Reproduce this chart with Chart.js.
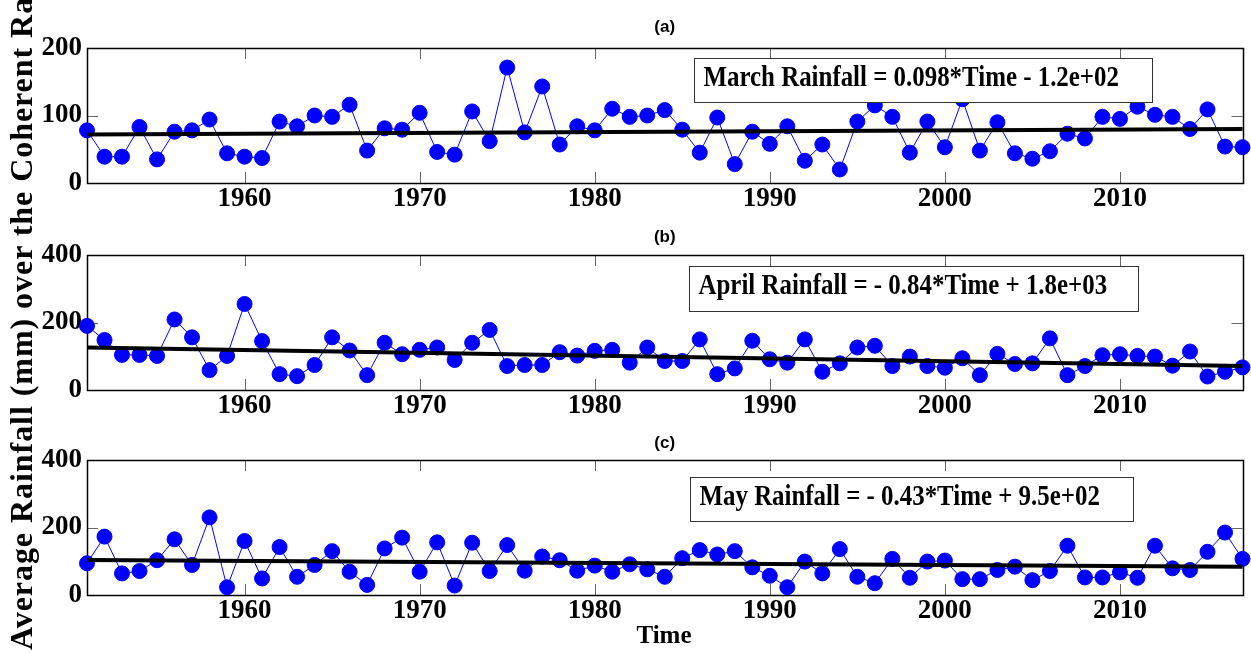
<!DOCTYPE html>
<html>
<head>
<meta charset="utf-8">
<title>Average rainfall over the coherent rainfall zone</title>
<script src="https://cdn.jsdelivr.net/npm/chart.js@4.4.1/dist/chart.umd.min.js"></script>
<style>
  html, body { margin: 0; padding: 0; background: #fff; }
  body { width: 1251px; height: 653px; position: relative; overflow: hidden; }
  canvas { position: absolute; left: 0; }
  #yTitle {
    position: absolute; left: 5px; top: 650px;
    transform-origin: 0 0; transform: rotate(-90deg);
    font: bold 32px "Liberation Serif", serif; line-height: 32px;
    letter-spacing: 0.95px; white-space: nowrap; color: #000;
  }
  #xTitle {
    position: absolute; left: 664px; top: 622px; transform: translateX(-50%);
    font: bold 25px "Liberation Serif", serif; line-height: 25px; color: #000;
  }
</style>
</head>
<body>
<canvas id="panelA" width="1251" height="215" style="top:0px"></canvas>
<canvas id="panelB" width="1251" height="212" style="top:210px"></canvas>
<canvas id="panelC" width="1251" height="207" style="top:420px"></canvas>
<div id="yTitle">Average Rainfall (mm) over the Coherent Rainfall Zone</div>
<div id="xTitle">Time</div>

<script>
// Jahre 1951-2017
const years = [
  1951, 1952, 1953, 1954, 1955, 1956, 1957, 1958, 1959, 1960,
  1961, 1962, 1963, 1964, 1965, 1966, 1967, 1968, 1969, 1970,
  1971, 1972, 1973, 1974, 1975, 1976, 1977, 1978, 1979, 1980,
  1981, 1982, 1983, 1984, 1985, 1986, 1987, 1988, 1989, 1990,
  1991, 1992, 1993, 1994, 1995, 1996, 1997, 1998, 1999, 2000,
  2001, 2002, 2003, 2004, 2005, 2006, 2007, 2008, 2009, 2010,
  2011, 2012, 2013, 2014, 2015, 2016, 2017
];

const marchRain = [
  78, 39, 39, 83, 35, 76, 78, 94, 44, 39,
  37, 91, 84, 100, 98, 116, 48, 81, 79, 104,
  46, 42, 106, 62, 171, 75, 143, 57, 84, 78,
  110, 98, 100, 108, 79, 45, 97, 28, 76, 58,
  84, 33, 57, 20, 91, 115, 98, 45, 91, 53,
  124, 48, 90, 44, 36, 47, 73, 66, 98, 95,
  113, 101, 98, 80, 109, 54, 53
];

const aprilRain = [
  190, 148, 104, 104, 101, 209, 156, 59, 101, 255,
  145, 47, 41, 74, 156, 117, 44, 140, 106, 119,
  126, 89, 140, 178, 71, 74, 74, 112, 102, 116,
  119, 81, 126, 86, 86, 150, 47, 64, 146, 91,
  81, 150, 54, 79, 126, 131, 71, 99, 71, 66,
  94, 44, 107, 77, 79, 153, 44, 71, 103, 106,
  101, 99, 72, 114, 40, 54, 67
];

const mayRain = [
  94, 173, 64, 71, 103, 165, 89, 230, 23, 160,
  49, 142, 54, 89, 130, 69, 30, 138, 170, 69,
  156, 28, 155, 71, 148, 72, 114, 103, 72, 87,
  69, 91, 76, 54, 109, 133, 120, 130, 82, 57,
  23, 99, 64, 136, 54, 35, 107, 51, 99, 102,
  47, 47, 74, 84, 44, 71, 146, 52, 52, 67,
  51, 146, 79, 74, 128, 185, 107
];

// Trendlinien: Anfangs- und Endwert
const trendYears = [1951, 2017];
const marchTrend = [72, 80];
const aprilTrend = [126, 71];
const mayTrend = [104, 84];

const xTicks = [1960, 1970, 1980, 1990, 2000, 2010];
const yTicksSmall = [0, 100, 200];
const yTicksLarge = [0, 200, 400];

const serif = '"Liberation Serif", "Times New Roman", serif';

// Rahmen + kleine Ticks nach innen (MATLAB-Stil)
const framePlugin = {
  id: 'frame',
  beforeDatasetsDraw(chart) {
    const { ctx, chartArea: a, scales: { x, y } } = chart;
    ctx.save();
    ctx.strokeStyle = '#666';
    ctx.lineWidth = 1;
    ctx.beginPath();
    x.ticks.forEach(t => {
      const px = Math.round(x.getPixelForValue(t.value)) + 0.5;
      ctx.moveTo(px, a.top); ctx.lineTo(px, a.top + 11);
      ctx.moveTo(px, a.bottom); ctx.lineTo(px, a.bottom - 11);
    });
    y.ticks.forEach(t => {
      const py = Math.round(y.getPixelForValue(t.value)) + 0.5;
      ctx.moveTo(a.left, py); ctx.lineTo(a.left + 11, py);
      ctx.moveTo(a.right, py); ctx.lineTo(a.right - 11, py);
    });
    ctx.stroke();
    ctx.strokeStyle = '#000';
    ctx.lineWidth = 1.5;
    ctx.strokeRect(Math.round(a.left) + 0.5, Math.round(a.top) + 0.5,
                   Math.round(a.width), Math.round(a.height));
    ctx.restore();
  }
};

// Textbox mit der Regressionsgleichung
const eqBoxPlugin = {
  id: 'eqBox',
  afterDatasetsDraw(chart, args, opts) {
    if (!opts.text) return;
    const { ctx, chartArea: a } = chart;
    const bx = Math.round(a.left + opts.left) + 0.5;
    const by = Math.round(a.top + opts.top) + 0.5;
    ctx.save();
    ctx.fillStyle = '#fff';
    ctx.fillRect(bx, by, opts.width, opts.height);
    ctx.strokeStyle = '#333';
    ctx.lineWidth = 1;
    ctx.strokeRect(bx, by, opts.width, opts.height);
    ctx.translate(bx + 9, by + 27);
    ctx.scale(0.83, 1);
    ctx.fillStyle = '#000';
    ctx.font = 'bold 30px ' + serif;
    ctx.textBaseline = 'alphabetic';
    ctx.fillText(opts.text, 0, 0);
    ctx.restore();
  }
};

function makePanel(id, values, trend, yMax, yTicks, title, titlePad, box) {
  const el = document.getElementById(id);
  return new Chart(el, {
    type: 'line',
    data: {
      datasets: [
        {
          label: 'Trend',
          data: trendYears.map((yr, i) => ({ x: yr, y: trend[i] })),
          borderColor: '#000',
          borderWidth: 4,
          pointRadius: 0,
          clip: false
        },
        {
          label: 'Rainfall',
          data: years.map((yr, i) => ({ x: yr, y: values[i] })),
          borderColor: '#0000FF',
          backgroundColor: '#0000FF',
          borderWidth: 1,
          pointRadius: 7.5,
          pointBorderWidth: 1,
          pointBackgroundColor: '#0000FF',
          pointBorderColor: '#0000FF',
          tension: 0,
          clip: false
        }
      ]
    },
    options: {
      responsive: false,
      animation: false,
      layout: { padding: { left: 0, right: 8, top: 0, bottom: 0 } },
      scales: {
        x: {
          type: 'linear',
          min: 1951,
          max: 2017,
          afterBuildTicks: s => { s.ticks = xTicks.map(v => ({ value: v })); },
          afterFit: s => { s.height = 32; },
          grid: { display: false, drawTicks: false },
          border: { display: false },
          ticks: {
            callback: v => String(v),
            color: '#000',
            padding: 0,
            maxRotation: 0,
            autoSkip: false,
            font: { family: serif, size: 27, weight: 'bold', lineHeight: 1.2 }
          }
        },
        y: {
          min: 0,
          max: yMax,
          afterBuildTicks: s => { s.ticks = yTicks.map(v => ({ value: v })); },
          afterFit: s => { s.width = 87; },
          grid: { display: false, drawTicks: false },
          border: { display: false },
          ticks: {
            color: '#000',
            padding: 5,
            font: { family: serif, size: 27, weight: 'bold' }
          }
        }
      },
      plugins: {
        legend: { display: false },
        tooltip: { enabled: false },
        title: {
          display: true,
          fullSize: false,
          text: title,
          color: '#000',
          font: { family: '"Liberation Sans", Arial, sans-serif', size: 17, weight: 'bold', lineHeight: 1.2 },
          padding: titlePad
        },
        eqBox: box
      }
    },
    plugins: [framePlugin, eqBoxPlugin]
  });
}

makePanel('panelA', marchRain, marchTrend, 200, yTicksSmall, '(a)',
  { top: 16.8, bottom: 10.8 },
  { text: 'March Rainfall = 0.098*Time - 1.2e+02', left: 607, top: 10, width: 458, height: 44 });

makePanel('panelB', aprilRain, aprilTrend, 400, yTicksLarge, '(b)',
  { top: 16.8, bottom: 7.8 },
  { text: 'April Rainfall = - 0.84*Time + 1.8e+03', left: 602, top: 11, width: 449, height: 45 });

makePanel('panelC', mayRain, mayTrend, 400, yTicksLarge, '(c)',
  { top: 12.8, bottom: 6.8 },
  { text: 'May Rainfall = - 0.43*Time + 9.5e+02', left: 603, top: 17, width: 443, height: 44 });
</script>
</body>
</html>
